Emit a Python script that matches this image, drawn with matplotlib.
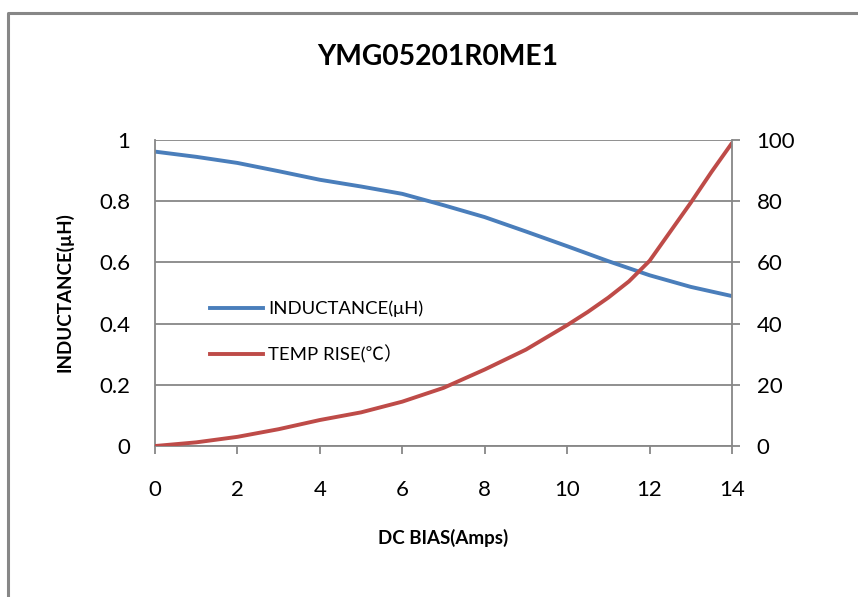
import matplotlib.pyplot as plt
from matplotlib.lines import Line2D

plt.rcParams['font.family'] = ['Lato', 'Noto Sans CJK SC', 'DejaVu Sans']

dc_bias = [0, 1, 2, 3, 4, 5, 6, 7, 8, 9, 10, 11, 12, 13, 14]
inductance = [0.962, 0.945, 0.925, 0.898, 0.870, 0.848, 0.824, 0.787, 0.748,
              0.701, 0.653, 0.604, 0.558, 0.520, 0.490]
temp_bias = [0, 1, 2, 3, 4, 5, 6, 7, 8, 9, 10, 10.5, 11, 11.5, 12, 12.5, 13, 13.5, 14]
temp_rise = [0, 1.2, 3, 5.5, 8.5, 11, 14.5, 19, 25, 31.5, 39.5, 43.8, 48.5, 53.8,
             60.5, 70, 79.5, 89.5, 99]

blue = '#4a7ebb'
red = '#be4b48'
gray = '#878787'

fig = plt.figure(figsize=(8.58, 5.97), dpi=100)
ax = fig.add_axes([0.1807, 0.2529, 0.6724, 0.5126])
ax2 = ax.twinx()

ax.plot(dc_bias, inductance, color=blue, lw=2.8, solid_capstyle='round')
ax2.plot(temp_bias, temp_rise, color=red, lw=2.8, solid_capstyle='round')

ax.set_xlim(0, 14)
ax.set_ylim(0, 1)
ax2.set_ylim(0, 100)
ax.set_xticks(range(0, 15, 2))
ax.set_yticks([0, 0.2, 0.4, 0.6, 0.8, 1])
ax.set_yticklabels(['0', '0.2', '0.4', '0.6', '0.8', '1'])
ax2.set_yticks(range(0, 101, 20))

for a in (ax, ax2):
    for s in a.spines.values():
        s.set_visible(False)
ax.spines['left'].set_visible(True)
ax.spines['bottom'].set_visible(True)
ax2.spines['right'].set_visible(True)
for s in ('left', 'bottom'):
    ax.spines[s].set_color(gray)
    ax.spines[s].set_linewidth(1.3)
ax2.spines['right'].set_color(gray)
ax2.spines['right'].set_linewidth(1.3)

ax.yaxis.grid(True, color=gray, lw=1.3)
ax.set_axisbelow(True)
ax.tick_params(axis='y', length=0, labelsize=16, pad=18)
ax.tick_params(axis='x', length=5.8, width=1.3, color=gray, labelsize=16, pad=19)
ax2.tick_params(axis='y', length=5.8, width=1.3, color=gray, labelsize=16, pad=12)

fig.text(0.5163, 0.0988, 'DC BIAS(Amps)', fontsize=13.5, fontweight='bold',
         ha='center', va='center')
fig.text(0.0746, 0.511, 'INDUCTANCE(µH)', fontsize=13.5, fontweight='bold',
         ha='center', va='center', rotation=90)
fig.text(0.5099, 0.9045, 'YMG05201R0ME1', fontsize=20.3, fontweight='bold',
         ha='center', va='center')

handles = [Line2D([], [], color=blue, lw=2.8), Line2D([], [], color=red, lw=2.8)]
ax.legend(handles, ['INDUCTANCE(μH)', 'TEMP RISE(℃）'], loc='center left',
          bbox_to_anchor=(0.0953, 0.3725), frameon=False, fontsize=13.3,
          handlelength=2.87, handletextpad=0.27, labelspacing=1.5,
          borderpad=0, borderaxespad=0)

fig.add_artist(plt.Line2D([0.0097, 0.0097, 1.0], [0.0, 0.978, 0.978],
                          color=gray, lw=2.2, transform=fig.transFigure))

fig.savefig('out.png', dpi=100, facecolor='white')
